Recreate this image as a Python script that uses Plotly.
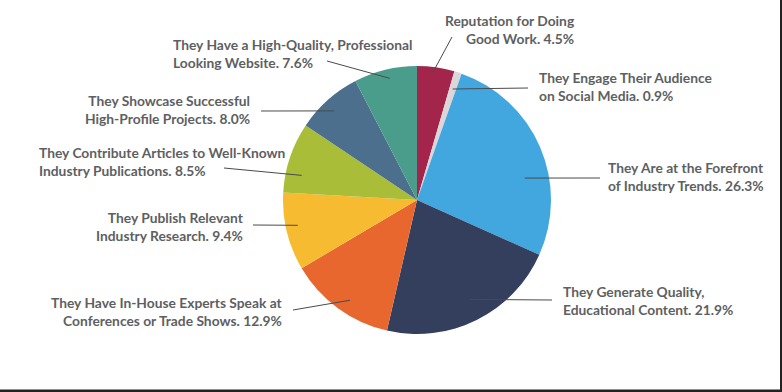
import math
import plotly.graph_objects as go

# ---- data ----
labels = [
    "Reputation for Doing<br>Good Work",
    "They Engage Their Audience<br>on Social Media",
    "They Are at the Forefront<br>of Industry Trends",
    "They Generate Quality,<br>Educational Content",
    "They Have In-House Experts Speak at<br>Conferences or Trade Shows",
    "They Publish Relevant<br>Industry Research",
    "They Contribute Articles to Well-Known<br>Industry Publications",
    "They Showcase Successful<br>High-Profile Projects",
    "They Have a High-Quality, Professional<br>Looking Website",
]
values = [4.5, 0.9, 26.3, 21.9, 12.9, 9.4, 8.5, 8.0, 7.6]
colors = ["#A3254B", "#DCD6D8", "#43A7DF", "#343F5E", "#E8672F",
          "#F6BB31", "#AABD38", "#4B6F8D", "#4A9C8B"]

# ---- layout (pixel geometry) ----
W, H = 782, 392
CX, CY, R = 417, 200, 134
# label placement: text x, text y(center), xanchor, leader end x, end y, angle tweak (deg), radius fraction
label_layout = [
    (577, 29, "right", 452, 37, -1.0, 0.96),
    (537, 87, "left", 528, 88, 0.0, 0.87),
    (606, 177, "left", 600, 178, 11.7, 0.82),
    (561, 300, "left", 552, 300, -1.5, 0.84),
    (285, 311, "right", 293, 310, -2.4, 0.90),
    (246, 226, "right", 253, 225, 1.7, 0.91),
    (37, 162, "left", 224, 168, -6.5, 0.88),
    (252, 110, "right", 261, 111, -1.3, 0.91),
    (171, 53, "left", 327, 61, 1.1, 0.93),
]

def px(x):
    return x / W

def py(y):
    return 1 - y / H

fig = go.Figure(go.Pie(
    labels=labels,
    values=values,
    marker=dict(colors=colors, line=dict(width=0)),
    sort=False,
    direction="clockwise",
    rotation=0,
    textinfo="none",
    hoverinfo="label+percent",
    showlegend=False,
    domain=dict(x=[px(CX - R), px(CX + R)], y=[py(CY + R), py(CY - R)]),
))

total = sum(values)
cum = 0.0
annotations = []
shapes = []
for lab, v, lay in zip(labels, values, label_layout):
    tx, ty, anchor, ex, ey, dang, rf = lay
    mid = (cum + v / 2) / total * 360 + dang
    cum += v
    sx = CX + rf * R * math.sin(math.radians(mid))
    sy = CY - rf * R * math.cos(math.radians(mid))
    shapes.append(dict(type="line", xref="paper", yref="paper",
                       x0=px(sx), y0=py(sy), x1=px(ex), y1=py(ey),
                       line=dict(color="#4a4a4c", width=1)))
    annotations.append(dict(
        xref="paper", yref="paper", x=px(tx), y=py(ty),
        xanchor=anchor, yanchor="middle", align=anchor,
        text=f"{lab}. {v:.1f}%", showarrow=False,
        font=dict(family="Lato", size=13.8, color="#5E5F62", weight=700),
    ))

# dark frame edges of the screenshot
shapes.append(dict(type="rect", xref="paper", yref="paper", x0=px(780), x1=1,
                   y0=0, y1=1, fillcolor="#222222", line=dict(width=0)))
shapes.append(dict(type="rect", xref="paper", yref="paper", x0=0, x1=1,
                   y0=0, y1=py(389.5), fillcolor="#222222", line=dict(width=0)))

fig.update_layout(
    width=W, height=H,
    margin=dict(l=0, r=0, t=0, b=0),
    paper_bgcolor="white", plot_bgcolor="white",
    annotations=annotations, shapes=shapes,
)
fig.write_html("out.html", config={"displayModeBar": False},
               post_script="document.body.style.margin='0';")
